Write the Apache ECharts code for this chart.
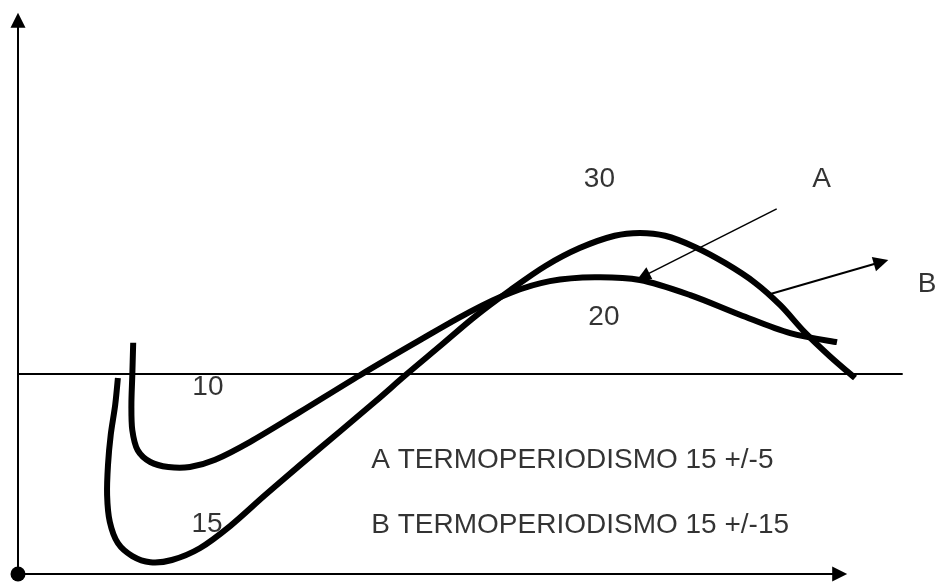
<!DOCTYPE html>
<html><head><meta charset="utf-8">
<script src="https://cdn.jsdelivr.net/npm/echarts@6/dist/echarts.min.js"></script>
<style>html,body{margin:0;padding:0;background:#fff}#c{width:936px;height:582px}</style>
</head><body><div id="c"></div>
<script>
// Curve A: TERMOPERIODISMO 15 +/-5 (abstract units, x: 0..102, y: 0..100)
const curveA = [[12.8,41.3],[12.7,35.5],[12.6,30.2],[12.7,25.7],[13.3,22.1],[14.7,20.0],[16.7,19.1],[19.1,19.1],[21.9,20.4],[25.8,23.6],[31.3,28.9],[38,35.5],[44.7,41.8],[50.2,46.8],[54.7,50.2],[59.1,52.3],[64.1,53.0],[69.1,52.5],[74.7,49.8],[80.2,46.3],[85.8,43.0],[91,41.4]];
// Curve B: TERMOPERIODISMO 15 +/-15
const curveB = [[11.1,35.0],[10.8,30.2],[10.3,24.8],[10.0,19.5],[9.9,14.1],[10.2,9.3],[11.1,5.5],[12.7,3.2],[14.7,2.1],[17.1,2.5],[20.2,4.6],[23.6,8.6],[27.4,14.0],[31.3,19.4],[35.8,25.5],[39.7,30.8],[43.2,35.7],[46.9,40.7],[50.8,46.0],[54.7,50.7],[58.6,55.0],[62.4,58.2],[66.3,60.4],[69.1,60.9],[71.9,60.4],[75.2,58.4],[78.6,55.5],[81.9,52.0],[84.7,48.0],[87.4,43.2],[90.2,38.9],[93,35.0]];
const referenceLine = [[0,35.7],[98.3,35.7]];
const xAxisLine = [[0,0],[91.3,0]];
const yAxisLine = [[0,0],[0,98.9]];
const arrowA = [[84.3,65.2],[69.5,53.2]];
const arrowB = [[83.6,50],[95.9,55.7]];
const centerLabels = [
  {name:'30', value:[64.6,70.4]},
  {name:'A', value:[89.3,70.4]},
  {name:'B', value:[101,51.8]},
  {name:'20', value:[65.1,45.9]},
  {name:'10', value:[21.1,33.4]},
  {name:'15', value:[21,8.9]}
];
const legendTexts = [
  {name:'A TERMOPERIODISMO 15 +/-5', value:[39.2,20.3]},
  {name:'B TERMOPERIODISMO 15 +/-15', value:[39.2,8.7]}
];
const origin = [[0,0]];

const FONT = "'Liberation Sans', Arial, sans-serif";
const chart = echarts.init(document.getElementById('c'), null, {renderer:'canvas'});
const hidden = {show:false};
const clear = 'rgba(0,0,0,0)';

// smooth Catmull-Rom path through the points, placed by the chart's own scales
function splineSeries(points){
  return {
    type:'custom', coordinateSystem:'cartesian2d', clip:false, z:3,
    data:[points[0]],
    renderItem:function(params, api){
      const p = points.map(function(v){ return api.coord(v); });
      let d = 'M' + p[0][0] + ' ' + p[0][1];
      for (let i = 0; i < p.length - 1; i++) {
        const p0 = p[i-1] || p[i], p1 = p[i], p2 = p[i+1], p3 = p[i+2] || p[i+1];
        const c1x = p1[0] + (p2[0]-p0[0])/6, c1y = p1[1] + (p2[1]-p0[1])/6;
        const c2x = p2[0] - (p3[0]-p1[0])/6, c2y = p2[1] - (p3[1]-p1[1])/6;
        d += ' C' + c1x + ' ' + c1y + ' ' + c2x + ' ' + c2y + ' ' + p2[0] + ' ' + p2[1];
      }
      return {type:'path', shape:{pathData:d}, style:{fill:null, stroke:'#000', lineWidth:6, lineJoin:'round'}};
    }
  };
}

chart.setOption({
  backgroundColor:'#fff',
  animation:false,
  grid:{left:18,right:0,top:14,bottom:8},
  xAxis:{type:'value',min:0,max:102,axisLine:hidden,axisTick:hidden,axisLabel:hidden,splitLine:hidden},
  yAxis:{type:'value',min:0,max:100,axisLine:hidden,axisTick:hidden,axisLabel:hidden,splitLine:hidden},
  series:[
    {type:'lines',coordinateSystem:'cartesian2d',clip:false,symbol:['none','triangle'],symbolSize:[15,15],
      lineStyle:{color:'#000',width:2,opacity:1},itemStyle:{color:'#000'},data:[{coords:xAxisLine},{coords:yAxisLine}]},
    {type:'lines',coordinateSystem:'cartesian2d',clip:false,symbol:['none','none'],
      lineStyle:{color:'#000',width:2,opacity:1},data:[{coords:referenceLine}]},
    splineSeries(curveA),
    splineSeries(curveB),
    {type:'lines',coordinateSystem:'cartesian2d',clip:false,symbol:['none','triangle'],symbolSize:[12,13],
      lineStyle:{color:'#000',width:1.5,opacity:1},itemStyle:{color:'#000'},data:[{coords:arrowA}],z:4},
    {type:'lines',coordinateSystem:'cartesian2d',clip:false,symbol:['none','triangle'],symbolSize:[14,15],
      lineStyle:{color:'#000',width:2,opacity:1},itemStyle:{color:'#000'},data:[{coords:arrowB}],z:4},
    {type:'scatter',data:origin,symbol:'circle',symbolSize:15,clip:false,itemStyle:{color:'#000',opacity:1},z:5},
    {type:'scatter',data:centerLabels,symbolSize:1,clip:false,itemStyle:{color:clear},
      label:{show:true,position:'inside',formatter:'{b}',color:'#000',fontFamily:FONT,fontSize:28,fontWeight:'normal'}},
    {type:'scatter',data:legendTexts,symbolSize:1,clip:false,itemStyle:{color:clear},
      label:{show:true,position:'right',distance:0,formatter:'{b}',color:'#000',fontFamily:FONT,fontSize:28,fontWeight:'normal'}}
  ]
});
</script></body></html>
